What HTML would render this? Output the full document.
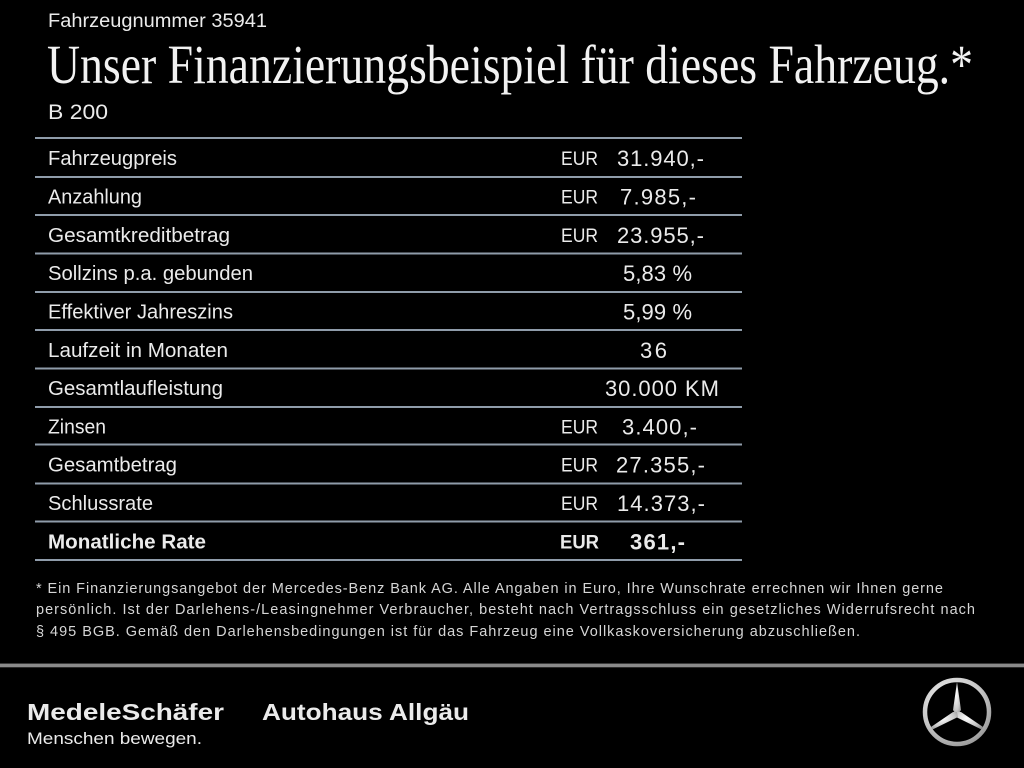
<!DOCTYPE html>
<html>
<head>
<meta charset="utf-8">
<style>
  html, body { margin:0; padding:0; background:#000; }
  body { width:1024px; height:768px; overflow:hidden; }
  svg { display:block; }
  .s { font-family:"Liberation Sans", "DejaVu Sans", sans-serif; fill:#ebebeb; }
  .serif { font-family:"Liberation Serif", serif; fill:#f2f2f2; }
  .fn { font-family:"Liberation Sans", sans-serif; fill:#d6d6d6; font-size:14.5px; }
</style>
</head>
<body>
<svg width="1024" height="768" viewBox="0 0 1024 768" xmlns="http://www.w3.org/2000/svg">
  <rect width="1024" height="768" fill="#000"/>

  <!-- header -->
  <text class="s" x="48" y="27" font-size="19" textLength="219" lengthAdjust="spacingAndGlyphs">Fahrzeugnummer 35941</text>
  <text class="serif" x="47" y="83" font-size="55" textLength="926" lengthAdjust="spacingAndGlyphs">Unser Finanzierungsbeispiel für dieses Fahrzeug.*</text>
  <text class="s" x="48" y="119" font-size="21" textLength="60" lengthAdjust="spacingAndGlyphs">B 200</text>

  <!-- lines -->
  <g fill="#8f9caa">
    <rect x="35" y="137" width="707" height="2"/>
    <rect x="35" y="176" width="707" height="2"/>
    <rect x="35" y="214" width="707" height="2"/>
    <rect x="35" y="252.5" width="707" height="2"/>
    <rect x="35" y="291" width="707" height="2"/>
    <rect x="35" y="329" width="707" height="2"/>
    <rect x="35" y="367.5" width="707" height="2"/>
    <rect x="35" y="406" width="707" height="2"/>
    <rect x="35" y="443.5" width="707" height="2"/>
    <rect x="35" y="482.5" width="707" height="2"/>
    <rect x="35" y="520.5" width="707" height="2"/>
    <rect x="35" y="559" width="707" height="2"/>
  </g>

  <!-- labels -->
  <g class="s" font-size="20.5">
    <text x="48" y="165" textLength="129" lengthAdjust="spacingAndGlyphs">Fahrzeugpreis</text>
    <text x="48" y="203.5" textLength="94" lengthAdjust="spacingAndGlyphs">Anzahlung</text>
    <text x="48" y="242" textLength="182" lengthAdjust="spacingAndGlyphs">Gesamtkreditbetrag</text>
    <text x="48" y="280" textLength="205" lengthAdjust="spacingAndGlyphs">Sollzins p.a. gebunden</text>
    <text x="48" y="318.5" textLength="185" lengthAdjust="spacingAndGlyphs">Effektiver Jahreszins</text>
    <text x="48" y="357" textLength="180" lengthAdjust="spacingAndGlyphs">Laufzeit in Monaten</text>
    <text x="48" y="395" textLength="175" lengthAdjust="spacingAndGlyphs">Gesamtlaufleistung</text>
    <text x="48" y="433.5" textLength="58" lengthAdjust="spacingAndGlyphs">Zinsen</text>
    <text x="48" y="471.5" textLength="129" lengthAdjust="spacingAndGlyphs">Gesamtbetrag</text>
    <text x="48" y="510" textLength="105" lengthAdjust="spacingAndGlyphs">Schlussrate</text>
    <text x="48" y="548.5" textLength="158" font-weight="bold" lengthAdjust="spacingAndGlyphs">Monatliche Rate</text>
  </g>

  <!-- EUR -->
  <g class="s" font-size="19.5">
    <text x="561" y="165" textLength="37" lengthAdjust="spacingAndGlyphs">EUR</text>
    <text x="561" y="203.5" textLength="37" lengthAdjust="spacingAndGlyphs">EUR</text>
    <text x="561" y="242" textLength="37" lengthAdjust="spacingAndGlyphs">EUR</text>
    <text x="561" y="433.5" textLength="37" lengthAdjust="spacingAndGlyphs">EUR</text>
    <text x="561" y="471.5" textLength="37" lengthAdjust="spacingAndGlyphs">EUR</text>
    <text x="561" y="510" textLength="37" lengthAdjust="spacingAndGlyphs">EUR</text>
    <text x="560" y="548.5" textLength="39" font-weight="bold" lengthAdjust="spacingAndGlyphs">EUR</text>
  </g>

  <!-- values -->
  <g class="s" font-size="22">
    <text x="617" y="166" textLength="87" lengthAdjust="spacing">31.940,-</text>
    <text x="620" y="204.5" textLength="76" lengthAdjust="spacing">7.985,-</text>
    <text x="617" y="243" textLength="87" lengthAdjust="spacing">23.955,-</text>
    <text x="623" y="281" textLength="69" lengthAdjust="spacing">5,83 %</text>
    <text x="623" y="319.5" textLength="69" lengthAdjust="spacing">5,99 %</text>
    <text x="640" y="358" textLength="27" lengthAdjust="spacing">36</text>
    <text x="605" y="396" textLength="114" lengthAdjust="spacing">30.000 KM</text>
    <text x="622" y="434.5" textLength="75" lengthAdjust="spacing">3.400,-</text>
    <text x="616" y="472.5" textLength="89" lengthAdjust="spacing">27.355,-</text>
    <text x="617" y="511" textLength="88" lengthAdjust="spacing">14.373,-</text>
    <text x="630" y="549.5" textLength="55" font-weight="bold" lengthAdjust="spacing">361,-</text>
  </g>

  <!-- footnote -->
  <text class="fn" x="36" y="593" textLength="907" lengthAdjust="spacing">* Ein Finanzierungsangebot der Mercedes-Benz Bank AG. Alle Angaben in Euro, Ihre Wunschrate errechnen wir Ihnen gerne</text>
  <text class="fn" x="36" y="614" textLength="939" lengthAdjust="spacing">persönlich. Ist der Darlehens-/Leasingnehmer Verbraucher, besteht nach Vertragsschluss ein gesetzliches Widerrufsrecht nach</text>
  <text class="fn" x="36" y="636" textLength="824" lengthAdjust="spacing">§ 495 BGB. Gemäß den Darlehensbedingungen ist für das Fahrzeug eine Vollkaskoversicherung abzuschließen.</text>

  <!-- footer separator -->
  <rect x="0" y="663" width="1024" height="1" fill="#3a3a3a"/>
  <rect x="0" y="664" width="1024" height="3" fill="#8a8a8a"/>
  <rect x="0" y="667" width="1024" height="1" fill="#2a2a2a"/>

  <!-- dealer logos -->
  <text class="s" x="27" y="720" font-size="23" font-weight="bold" fill="#ffffff" textLength="197" lengthAdjust="spacingAndGlyphs">MedeleSchäfer</text>
  <text class="s" x="262" y="720" font-size="23" font-weight="bold" fill="#ffffff" textLength="207" lengthAdjust="spacingAndGlyphs">Autohaus Allgäu</text>
  <text class="s" x="27" y="744" font-size="17" fill="#dcdcdc" textLength="175" lengthAdjust="spacingAndGlyphs">Menschen bewegen.</text>

  <!-- Mercedes star -->
  <defs>
    <radialGradient id="rg" cx="0.4" cy="0.35" r="0.8">
      <stop offset="0" stop-color="#ffffff"/>
      <stop offset="0.6" stop-color="#c8c8c8"/>
      <stop offset="1" stop-color="#8a8a8a"/>
    </radialGradient>
  </defs>
  <circle cx="957" cy="712" r="32" fill="none" stroke="url(#rg)" stroke-width="4.5"/>
  <g fill="url(#rg)">
    <polygon points="957,682 961,710 957,716 953,710"/>
    <polygon points="957,712 961,712 983,727 981.5,729.5 956,717"/>
    <polygon points="957,712 953,712 931,727 932.5,729.5 958,717"/>
  </g>
</svg>
</body>
</html>
